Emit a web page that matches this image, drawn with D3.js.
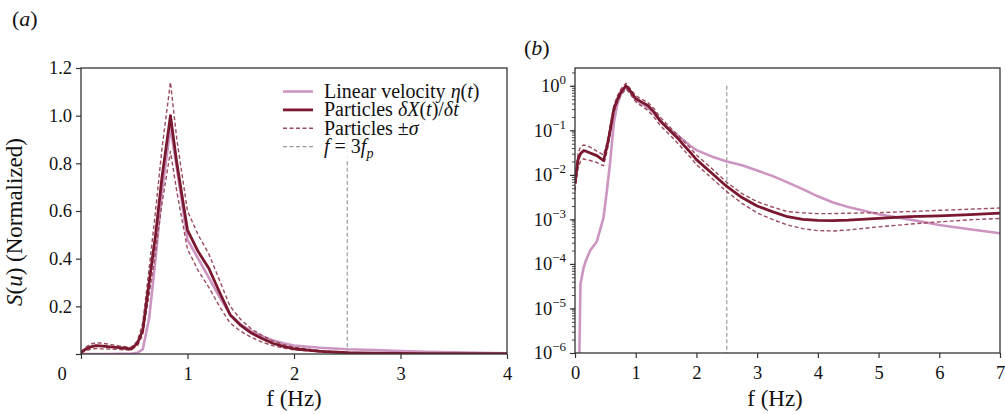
<!DOCTYPE html>
<html>
<head>
<meta charset="utf-8">
<script src="https://cdn.jsdelivr.net/npm/d3@7"></script>
<style>
  body { margin: 0; background: #fff; }
  svg, svg text { font-family: "Liberation Serif", "Times New Roman", Times, serif; }
</style>
</head>
<body>
<svg id="chart" width="1005" height="414"></svg>
<script>
// spectra (both panels share the same curves)
const freq    = [0, 0.05, 0.09, 0.14, 0.18, 0.25, 0.36, 0.47, 0.53, 0.58, 0.64, 0.7, 0.76, 0.84, 0.9, 1.0, 1.1, 1.2, 1.3, 1.4, 1.5, 1.6, 1.7, 1.8, 1.9, 2.0, 2.25, 2.5, 2.75, 3.0, 3.25, 3.5, 3.75, 4.0, 4.25, 4.5, 5.0, 5.5, 6.0, 6.5, 7.0];
const meanS   = [0.0065, 0.022, 0.03, 0.035, 0.034, 0.031, 0.027, 0.021, 0.045, 0.1, 0.3, 0.5, 0.74, 1.0, 0.8, 0.52, 0.43, 0.36, 0.26, 0.165, 0.12, 0.088, 0.065, 0.045, 0.032, 0.022, 0.011, 0.0055, 0.0031, 0.002, 0.0015, 0.00115, 0.001, 0.00095, 0.00094, 0.00096, 0.00105, 0.00115, 0.0012, 0.00128, 0.00138];
const upperS  = [0.009, 0.03, 0.042, 0.047, 0.046, 0.042, 0.034, 0.028, 0.055, 0.13, 0.36, 0.6, 0.86, 1.14, 0.9, 0.6, 0.5, 0.42, 0.31, 0.2, 0.145, 0.105, 0.078, 0.055, 0.04, 0.028, 0.014, 0.0068, 0.0038, 0.0025, 0.0019, 0.0015, 0.0014, 0.00135, 0.00135, 0.00138, 0.00142, 0.0015, 0.0016, 0.0017, 0.0018];
const lowerS  = [0.0045, 0.014, 0.02, 0.023, 0.022, 0.021, 0.019, 0.016, 0.035, 0.08, 0.25, 0.43, 0.63, 0.85, 0.68, 0.44, 0.35, 0.28, 0.2, 0.13, 0.095, 0.07, 0.05, 0.035, 0.025, 0.017, 0.0085, 0.0042, 0.0023, 0.0014, 0.001, 0.00075, 0.00062, 0.00056, 0.00055, 0.00058, 0.00068, 0.00078, 0.00088, 0.00098, 0.00105];
const linearS = [1e-9, 1e-8, 3.5e-5, 8e-5, 1.2e-4, 2e-4, 3.2e-4, 1.1e-3, 5e-3, 0.02, 0.15, 0.4, 0.68, 0.95, 0.78, 0.48, 0.4, 0.32, 0.24, 0.165, 0.125, 0.095, 0.075, 0.058, 0.045, 0.036, 0.026, 0.02, 0.0165, 0.0125, 0.0095, 0.0068, 0.0048, 0.0033, 0.0024, 0.0019, 0.0013, 0.001, 0.00075, 0.0006, 0.00049];

const markerFreq = 2.5;   // f = 3 f_p

const leftXTicks  = [0, 1, 2, 3, 4];
const leftYTicks  = [0, 0.2, 0.4, 0.6, 0.8, 1.0, 1.2];
const rightXTicks = [0, 1, 2, 3, 4, 5, 6, 7];
const rightYTicks = [1e-6, 1e-5, 1e-4, 1e-3, 1e-2, 1e-1, 1];

const colMean = "#7a1830";
const colSigma = "#9b4d5f";
const colLinear = "#cc95c2";
const colMarker = "#9a9a9a";
const colAxis = "#333";
const fontFam = '"Liberation Serif", "Times New Roman", Times, serif';
const tickFont = 18.5;
const labelFont = 23;

const svg = d3.select("#chart");

const series = [
  { key: "linear", values: linearS, color: colLinear, width: 2.6, dash: null },
  { key: "upper", values: upperS, color: colSigma, width: 1.4, dash: "4,2.5" },
  { key: "lower", values: lowerS, color: colSigma, width: 1.4, dash: "4,2.5" },
  { key: "mean", values: meanS, color: colMean, width: 2.8, dash: null }
];

function toPoints(values, maxF) {
  return freq.map((f, i) => ({ f: f, v: values[i] })).filter(d => d.f <= maxF);
}

function styleAxis(g, fontSize) {
  g.attr("font-family", fontFam);
  g.select(".domain").remove();
  g.selectAll(".tick line").attr("stroke", colAxis).attr("stroke-width", 1.2);
  g.selectAll(".tick text").attr("fill", "#111").style("font-size", fontSize + "px")
    .style("font-family", fontFam);
}

function drawCurves(g, x, y, maxF, clipId) {
  const line = d3.line().x(d => x(d.f)).y(d => y(d.v));
  const plot = g.append("g").attr("clip-path", `url(#${clipId})`);
  // marker line f = 3 f_p from S = 1 down to bottom
  plot.append("line")
    .attr("x1", x(markerFreq)).attr("x2", x(markerFreq))
    .attr("y1", y(1)).attr("y2", y.range()[0])
    .attr("stroke", colMarker).attr("stroke-width", 1.2).attr("stroke-dasharray", "4,2.5");
  series.forEach(s => {
    plot.append("path")
      .datum(toPoints(s.values, maxF))
      .attr("fill", "none")
      .attr("stroke", s.color)
      .attr("stroke-width", s.width)
      .attr("stroke-dasharray", s.dash)
      .attr("stroke-linejoin", "round")
      .attr("d", line);
  });
}

// ---------- panel (a): linear ----------
const L = { left: 81, right: 507, top: 68, bottom: 354 };
const xL = d3.scaleLinear().domain([0, 4]).range([L.left, L.right]);
const yL = d3.scaleLinear().domain([0, 1.2]).range([L.bottom, L.top]);

const defs = svg.append("defs");
defs.append("clipPath").attr("id", "clipL").append("rect")
  .attr("x", L.left).attr("y", L.top).attr("width", L.right - L.left).attr("height", L.bottom - L.top);

const gL = svg.append("g");
drawCurves(gL, xL, yL, 4, "clipL");

gL.append("g")
  .attr("transform", `translate(0,${L.bottom})`)
  .call(d3.axisBottom(xL).tickValues(leftXTicks).tickSize(5).tickPadding(8)
    .tickFormat(d => d === 0 ? "" : d3.format("d")(d)))
  .call(g => styleAxis(g, tickFont));

gL.append("g")
  .attr("transform", `translate(${L.left},0)`)
  .call(d3.axisLeft(yL).tickValues(leftYTicks).tickSize(5).tickPadding(4)
    .tickFormat(d => d === 0 ? "" : d3.format(".1f")(d)))
  .call(g => styleAxis(g, tickFont));

// shared corner zero
gL.append("text")
  .attr("x", xL(0) - 19).attr("y", yL(0) + 26)
  .attr("text-anchor", "middle").style("font-size", tickFont + "px").attr("fill", "#111")
  .text("0");

gL.append("rect")
  .attr("x", L.left).attr("y", L.top).attr("width", L.right - L.left).attr("height", L.bottom - L.top)
  .attr("fill", "none").attr("stroke", colAxis).attr("stroke-width", 1.3);

// legend
const legendRows = [
  { parts: [["Linear velocity ", false], ["η", true], ["(", false], ["t", true], [")", false]], color: colLinear, width: 2.6, dash: null },
  { parts: [["Particles ", false], ["δX", true], ["(", false], ["t", true], [")/", false], ["δt", true]], color: colMean, width: 2.8, dash: null },
  { parts: [["Particles ±", false], ["σ", true]], color: colSigma, width: 1.4, dash: "4,2.5" },
  { parts: [["f", true], [" = 3", false], ["f", true]], sub: "p", color: colMarker, width: 1.2, dash: "4,2.5" }
];

const leg = gL.append("g");
leg.append("rect")
  .attr("x", 276).attr("y", 73).attr("width", 229).attr("height", 87)
  .attr("fill", "#fff").attr("fill-opacity", 0.8);
legendRows.forEach((r, i) => {
  const cy = 91.5 + i * 18.4;
  leg.append("line")
    .attr("x1", 283).attr("x2", 313).attr("y1", cy).attr("y2", cy)
    .attr("stroke", r.color).attr("stroke-width", r.width).attr("stroke-dasharray", r.dash);
  const t = leg.append("text")
    .attr("x", 324).attr("y", cy + 6.5)
    .style("font-size", "20px").attr("fill", "#111");
  r.parts.forEach(p => {
    t.append("tspan").style("font-style", p[1] ? "italic" : "normal").text(p[0]);
  });
  if (r.sub) {
    t.append("tspan").attr("dy", 5).style("font-size", "14px").style("font-style", "italic").text(r.sub);
  }
});

// axis labels panel (a)
svg.append("text")
  .attr("x", (L.left + L.right) / 2).attr("y", 406)
  .attr("text-anchor", "middle").style("font-size", labelFont + "px").attr("fill", "#111")
  .text("f (Hz)");

const ylab = svg.append("text")
  .attr("transform", `translate(22,222) rotate(-90)`)
  .attr("text-anchor", "middle").style("font-size", labelFont + "px").attr("fill", "#111");
ylab.append("tspan").style("font-style", "italic").text("S");
ylab.append("tspan").text("(");
ylab.append("tspan").style("font-style", "italic").text("u");
ylab.append("tspan").text(") (Normalized)");

const pa = svg.append("text").attr("x", 12).attr("y", 26).style("font-size", "22px").attr("fill", "#111");
pa.append("tspan").text("(");
pa.append("tspan").style("font-style", "italic").text("a");
pa.append("tspan").text(")");

// ---------- panel (b): log ----------
const R = { left: 575, right: 1000, top: 68, bottom: 353 };
const xR = d3.scaleLinear().domain([0, 7]).range([R.left, R.right]);
const yR = d3.scaleLog().domain([1e-6, Math.pow(10, 0.4)]).range([R.bottom, R.top]);

defs.append("clipPath").attr("id", "clipR").append("rect")
  .attr("x", R.left).attr("y", R.top).attr("width", R.right - R.left).attr("height", R.bottom - R.top);

const gR = svg.append("g");
drawCurves(gR, xR, yR, 7, "clipR");

gR.append("g")
  .attr("transform", `translate(0,${R.bottom})`)
  .call(d3.axisBottom(xR).tickValues(rightXTicks).tickSize(5).tickPadding(8)
    .tickFormat(d3.format("d")))
  .call(g => styleAxis(g, tickFont));

// minor ticks
gR.append("g")
  .attr("transform", `translate(${R.left},0)`)
  .call(d3.axisLeft(yR).tickValues(yR.ticks()).tickSize(3).tickFormat(""))
  .call(g => styleAxis(g, tickFont))
  .selectAll(".tick line").attr("stroke-width", 0.9);

const yAxR = gR.append("g")
  .attr("transform", `translate(${R.left},0)`)
  .call(d3.axisLeft(yR).tickValues(rightYTicks).tickSize(5).tickPadding(4))
  .call(g => styleAxis(g, tickFont));

yAxR.selectAll(".tick text").each(function(d) {
  const t = d3.select(this).text(null);
  const e = Math.round(Math.log10(d));
  t.append("tspan").text("10");
  t.append("tspan").attr("dy", -8).style("font-size", "13px")
    .text(e < 0 ? "\u2212" + (-e) : String(e));
});

gR.append("rect")
  .attr("x", R.left).attr("y", R.top).attr("width", R.right - R.left).attr("height", R.bottom - R.top)
  .attr("fill", "none").attr("stroke", colAxis).attr("stroke-width", 1.3);

svg.append("text")
  .attr("x", 775).attr("y", 406)
  .attr("text-anchor", "middle").style("font-size", labelFont + "px").attr("fill", "#111")
  .text("f (Hz)");

const pb = svg.append("text").attr("x", 524).attr("y", 55).style("font-size", "22px").attr("fill", "#111");
pb.append("tspan").text("(");
pb.append("tspan").style("font-style", "italic").text("b");
pb.append("tspan").text(")");
</script>
</body>
</html>
